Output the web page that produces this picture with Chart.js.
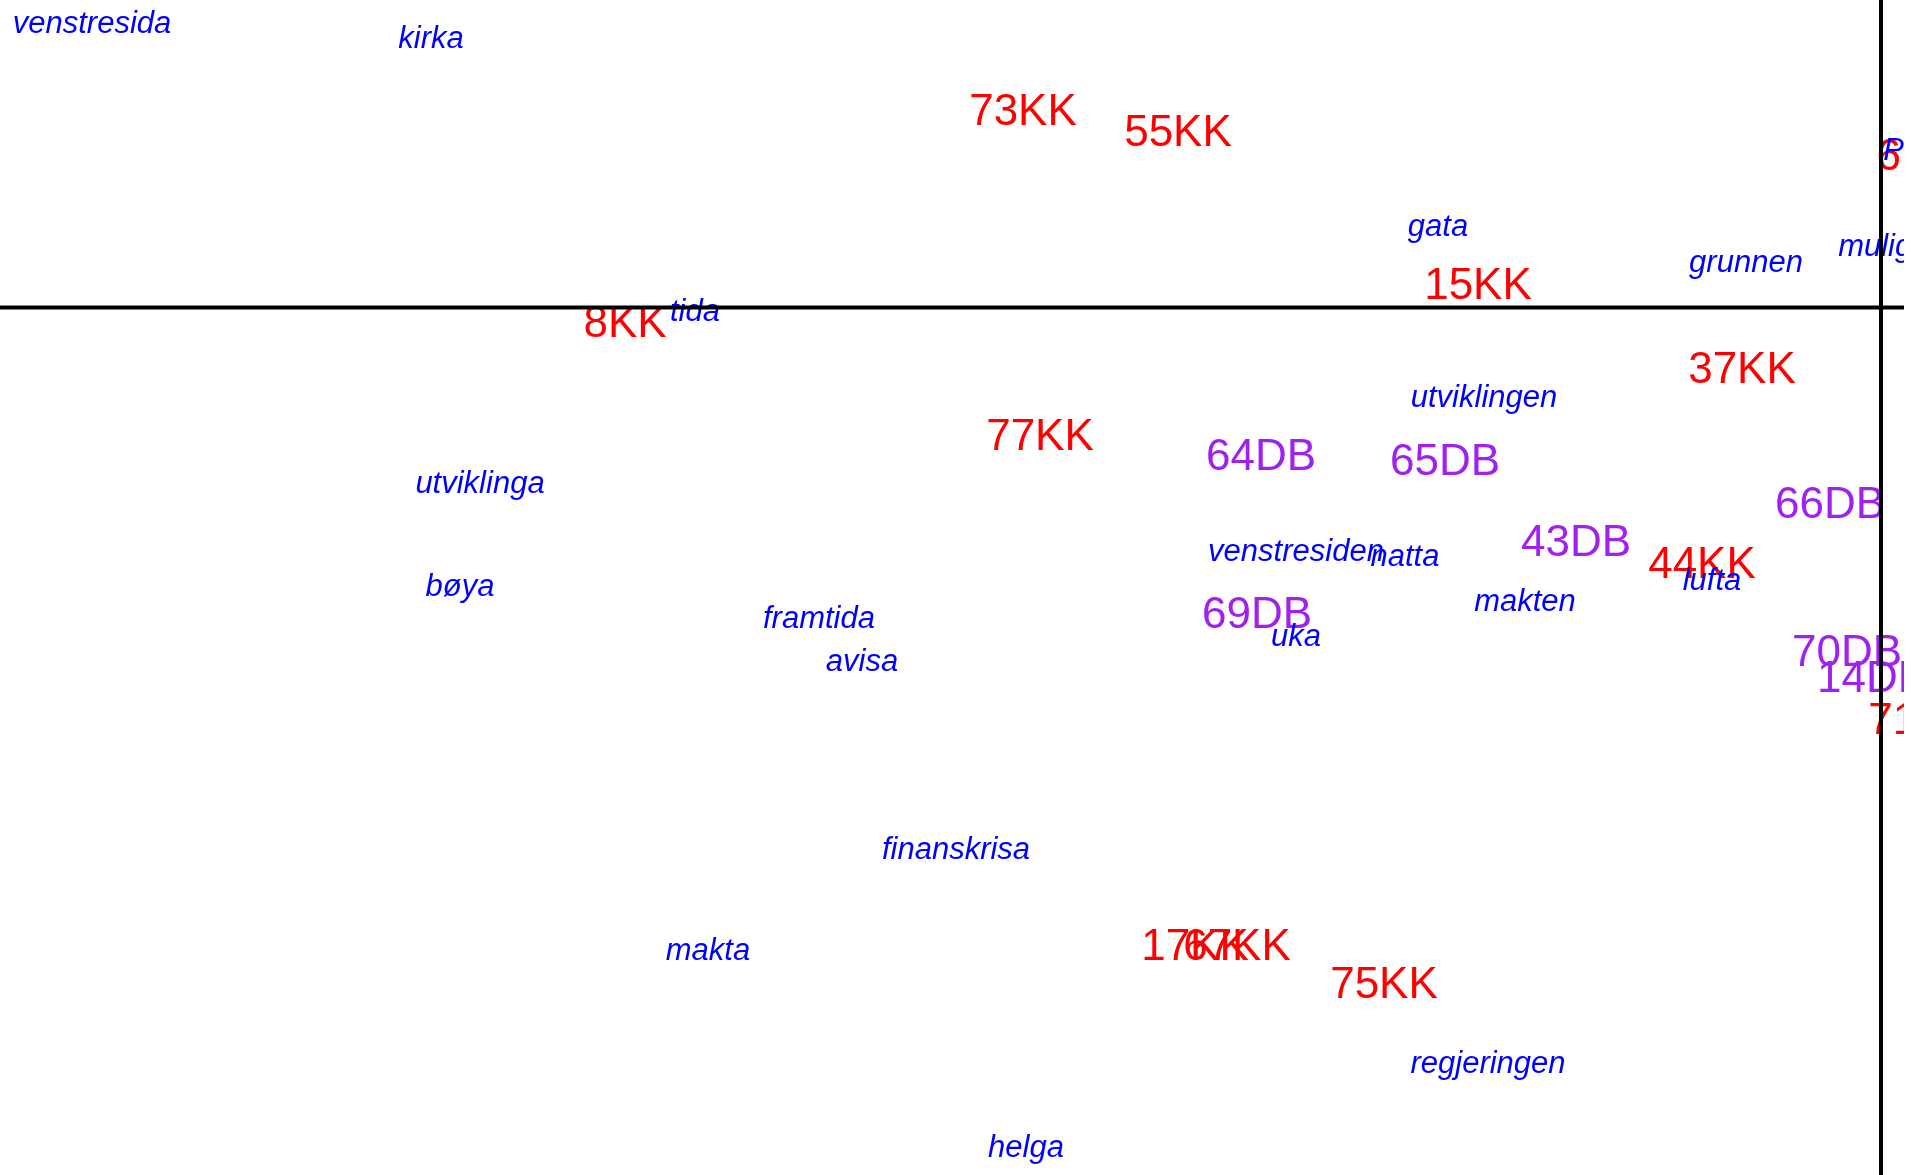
<!DOCTYPE html>
<html><head><meta charset="utf-8">
<script src="https://cdn.jsdelivr.net/npm/chart.js@4/dist/chart.umd.min.js"></script>
<style>html,body{margin:0;padding:0;background:#fff;overflow:hidden}
#wrap{width:1911px;height:1175px;position:relative}</style></head>
<body><div id="wrap"><canvas id="c"></canvas></div>
<script>
// Row points (words)
const wordLabels = ["venstresida","kirka","gata","grunnen","muligheten","Pressen","tida","utviklingen","utviklinga","venstresiden","natta","bøya","makten","lufta","framtida","uka","avisa","finanskrisa","makta","regjeringen","helga"];
const wordX = [-1.789,-1.450,-0.443,-0.135,0.033,0.059,-1.186,-0.397,-1.401,-0.585,-0.476,-1.421,-0.356,-0.169,-1.062,-0.585,-1.019,-0.925,-1.173,-0.393,-0.855];
const wordY = [0.283,0.268,0.080,0.044,0.060,0.156,-0.005,-0.091,-0.177,-0.245,-0.250,-0.280,-0.295,-0.274,-0.312,-0.330,-0.355,-0.543,-0.644,-0.757,-0.841];
// Column points KK
const kkLabels = ["73KK","55KK","15KK","8KK","37KK","77KK","44KK","17KK","67KK","75KK","6KK","71KK"];
const kkX = [-0.858,-0.703,-0.403,-1.256,-0.139,-0.841,-0.179,-0.686,-0.644,-0.497,0.037,0.041];
const kkY = [0.195,0.174,0.021,-0.017,-0.063,-0.130,-0.258,-0.640,-0.640,-0.678,0.150,-0.414];
// Column points DB
const dbLabels = ["64DB","65DB","66DB","43DB","69DB","70DB","14DB"];
const dbX = [-0.620,-0.436,-0.051,-0.305,-0.624,-0.034,-0.009];
const dbY = [-0.150,-0.155,-0.198,-0.236,-0.308,-0.346,-0.372];
// Axis extents
const xRange = [-1.881, 0.023];
const yRange = [-0.8675, 0.3075];

function pts(xs, ys){ return xs.map((x,i)=>({x:x, y:ys[i]})); }

const labelPlugin = {
  id:'labelPlugin',
  afterDatasetsDraw(chart){
    const ctx = chart.ctx, a = chart.chartArea;
    ctx.save();
    ctx.beginPath(); ctx.rect(a.left, a.top, a.right-a.left, a.bottom-a.top); ctx.clip();
    ctx.textAlign = 'center'; ctx.textBaseline = 'middle';
    chart.data.datasets.forEach((ds, di) => {
      const meta = chart.getDatasetMeta(di);
      ctx.fillStyle = ds.textColor;
      ctx.font = ds.textFont;
      meta.data.forEach((el, i) => {
        ctx.fillText(ds.labels[i], el.x, el.y);
      });
    });
    const x0 = chart.scales.x.getPixelForValue(0);
    const y0 = chart.scales.y.getPixelForValue(0);
    ctx.strokeStyle = '#000'; ctx.lineWidth = 4;
    ctx.beginPath(); ctx.moveTo(a.left, y0); ctx.lineTo(a.right, y0); ctx.stroke();
    ctx.beginPath(); ctx.moveTo(x0, a.top); ctx.lineTo(x0, a.bottom); ctx.stroke();
    ctx.restore();
  }
};

new Chart(document.getElementById('c'), {
  type:'scatter',
  data:{ datasets:[
    {data:pts(kkX,kkY), labels:kkLabels, textColor:'#FF0000', textFont:'44px "Liberation Sans"', pointRadius:0},
    {data:pts(dbX,dbY), labels:dbLabels, textColor:'#A020F0', textFont:'44px "Liberation Sans"', pointRadius:0},
    {data:pts(wordX,wordY), labels:wordLabels, textColor:'#0000FF', textFont:'italic 31px "Liberation Sans"', pointRadius:0}
  ]},
  options:{
    responsive:true, maintainAspectRatio:false, animation:false,
    layout:{padding:{left:0,right:7,top:0,bottom:0}},
    plugins:{legend:{display:false}, tooltip:{enabled:false}},
    scales:{
      x:{type:'linear', min:xRange[0], max:xRange[1], display:false},
      y:{type:'linear', min:yRange[0], max:yRange[1], display:false}
    }
  },
  plugins:[labelPlugin]
});
</script></body></html>
